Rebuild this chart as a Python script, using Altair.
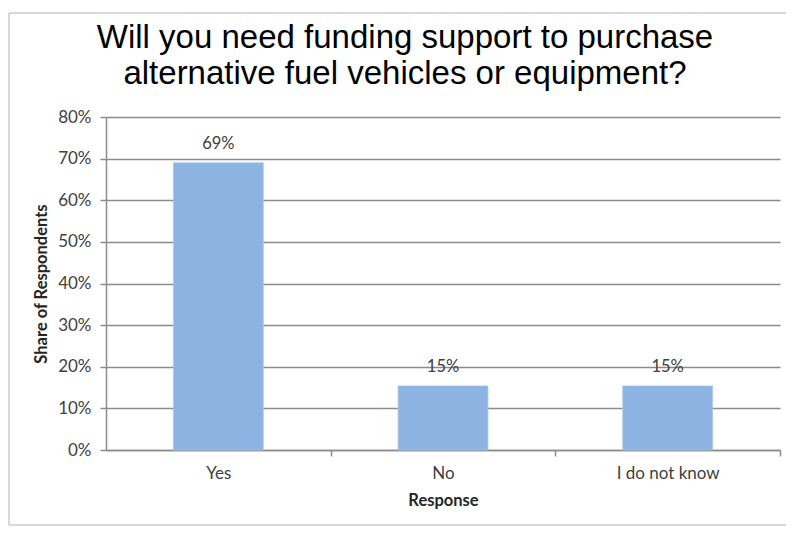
import altair as alt
import pandas as pd

categories = ["Yes", "No", "I do not know"]
shares = [0.69, 0.154, 0.154]
y_ticks = [0, 0.1, 0.2, 0.3, 0.4, 0.5, 0.6, 0.7, 0.8]

df = pd.DataFrame({"Response": categories, "Share": shares})

LABEL_FONT = "Lato"
PLOT_W = 674
PLOT_H = 333
HALF_STEP = PLOT_W / len(categories) / 2

base = alt.Chart(df).encode(
    x=alt.X(
        "Response:N",
        sort=categories,
        title="Response",
        scale=alt.Scale(paddingInner=0.6, paddingOuter=0.3),
        axis=alt.Axis(
            labelAngle=0,
            tickOffset=HALF_STEP,
            labelOffset=-HALF_STEP,
            tickSize=6,
            labelPadding=9,
            titlePadding=11,
            grid=False,
        ),
    ),
    y=alt.Y(
        "Share:Q",
        title="Share of Respondents",
        scale=alt.Scale(domain=[0, 0.8], nice=False),
        axis=alt.Axis(
            format=".0%",
            values=y_ticks,
            tickSize=6,
            labelPadding=9,
            titlePadding=8,
            grid=True,
        ),
    ),
)

bars = base.mark_bar(color="#8DB3E2", stroke="#A9C6EA", strokeWidth=0.8)
labels = base.mark_text(dy=-19, fontSize=16.5, font=LABEL_FONT, color="#404040").encode(
    text=alt.Text("Share:Q", format=".0%")
)

frame = alt.Chart(pd.DataFrame({"f": [0]})).mark_rect(
    filled=False, stroke="#B0B0B0", strokeWidth=1
).encode(
    x=alt.value(-97), x2=alt.value(683), y=alt.value(-104), y2=alt.value(408)
)

chart = (
    alt.layer(frame, bars, labels)
    .properties(
        width=PLOT_W,
        height=PLOT_H,
        background="white",
        title=alt.TitleParams(
            text=["Will you need funding support to purchase",
                  "alternative fuel vehicles or equipment?"],
            fontSize=33,
            font="Liberation Sans",
            fontWeight="normal",
            color="#000000",
            lineHeight=36,
            anchor="middle",
            frame="bounds",
            offset=0,
            dy=78,
            dx=6,
        ),
        autosize=alt.AutoSizeParams(type="none"),
        padding={"left": 98, "top": 109, "right": 6, "bottom": 76},
    )
    .configure_view(stroke=None)
    .configure_axis(
        labelFont=LABEL_FONT,
        labelFontSize=17,
        labelColor="#404040",
        titleFont=LABEL_FONT,
        titleFontSize=16.5,
        titleFontWeight="bold",
        titleColor="#262626",
        domainColor="#8C8C8C",
        domainWidth=1.5,
        tickColor="#8C8C8C",
        tickWidth=1.5,
        gridColor="#8C8C8C",
        gridWidth=1.5,
    )
)

chart.save("out.html", embed_options={"renderer": "svg", "actions": False})
